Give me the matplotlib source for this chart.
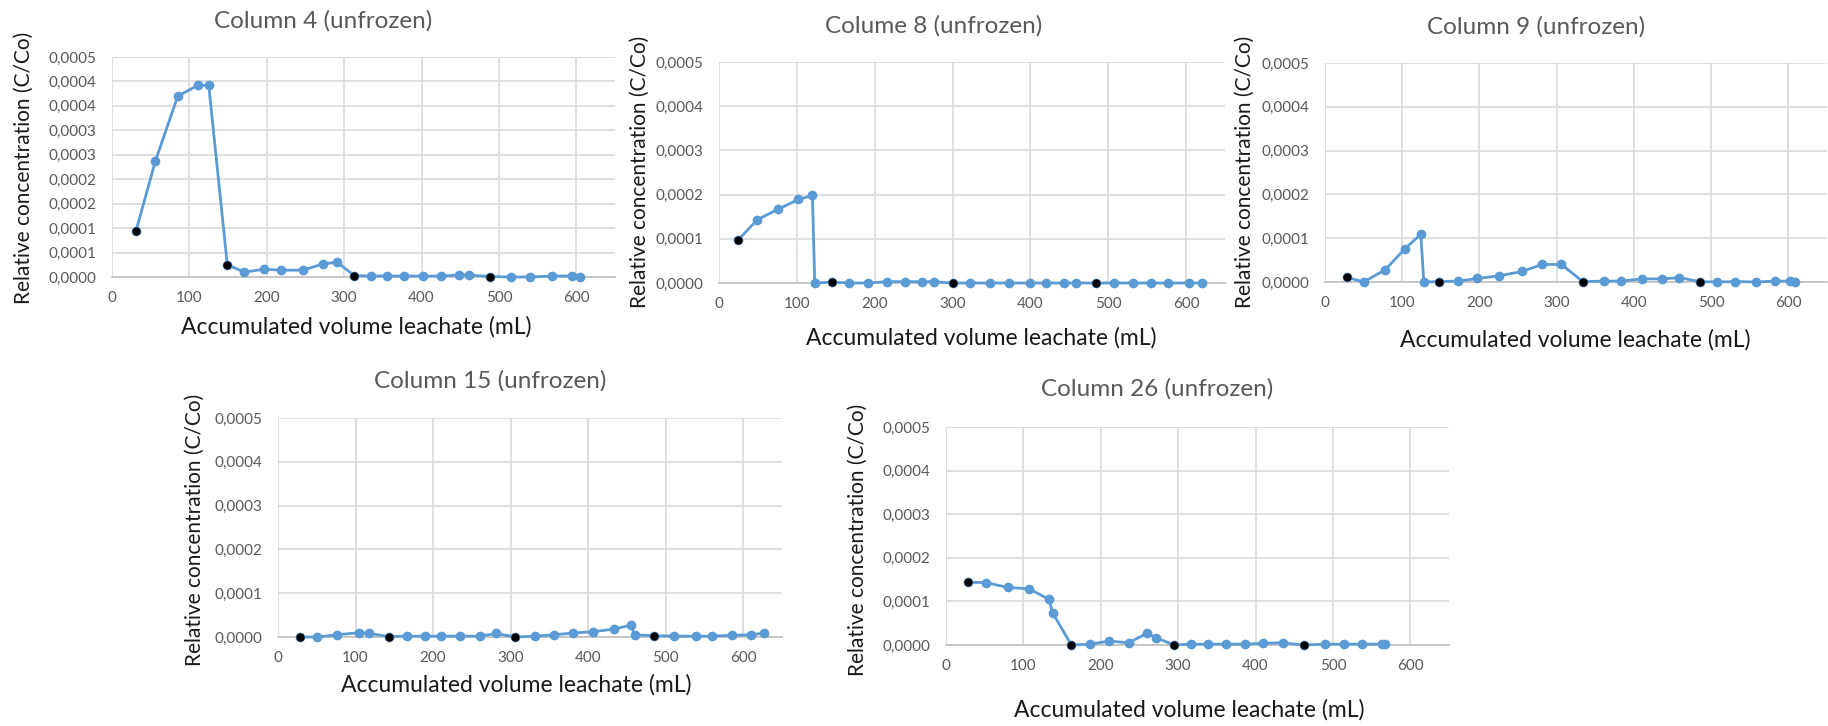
import matplotlib
matplotlib.use("Agg")
import matplotlib.pyplot as plt
from matplotlib.ticker import FixedLocator, FixedFormatter

plt.rcParams['font.family'] = ['Lato', 'DejaVu Sans']

# ---- data ----
titles = ["Column 4 (unfrozen)", "Colume 8 (unfrozen)", "Column 9 (unfrozen)",
          "Column 15 (unfrozen)", "Column 26 (unfrozen)"]

x_col4 = [31, 56, 85, 111, 125, 149, 171, 197, 219, 247, 273, 291, 313, 335, 355,
          377, 402, 425, 448, 461, 488, 515, 540, 568, 594, 605]
y_col4 = [0.94e-4, 2.37e-4, 3.70e-4, 3.92e-4, 3.92e-4, 0.25e-4, 0.10e-4, 0.16e-4,
          0.14e-4, 0.14e-4, 0.27e-4, 0.30e-4, 0.03e-4, 0.02e-4, 0.02e-4, 0.02e-4,
          0.02e-4, 0.02e-4, 0.04e-4, 0.04e-4, 0.01e-4, 0.0, 0.0, 0.02e-4, 0.02e-4, 0.0]
black_col4 = [0, 5, 12, 20]

x_col8 = [25, 49, 76, 102, 120, 123, 145, 167, 191, 216, 239, 261, 276, 300, 323,
          348, 372, 399, 420, 443, 458, 484, 507, 532, 555, 577, 604, 621]
y_col8 = [0.98e-4, 1.43e-4, 1.67e-4, 1.89e-4, 1.98e-4, 0.0, 0.02e-4, 0.0, 0.0,
          0.03e-4, 0.03e-4, 0.03e-4, 0.03e-4, 0.0, 0.0, 0.0, 0.0, 0.0, 0.0, 0.0,
          0.0, 0.0, 0.0, 0.0, 0.0, 0.0, 0.0, 0.0]
black_col8 = [0, 6, 13, 21]

x_col9 = [28, 50, 78, 103, 124, 128, 148, 172, 197, 225, 255, 281, 306, 334, 361,
          383, 410, 436, 459, 485, 507, 531, 558, 583, 602, 608]
y_col9 = [0.11e-4, 0.0, 0.28e-4, 0.75e-4, 1.09e-4, 0.0, 0.01e-4, 0.02e-4, 0.08e-4,
          0.14e-4, 0.24e-4, 0.40e-4, 0.40e-4, 0.01e-4, 0.02e-4, 0.02e-4, 0.07e-4,
          0.07e-4, 0.10e-4, 0.01e-4, 0.0, 0.01e-4, 0.0, 0.02e-4, 0.02e-4, 0.0]
black_col9 = [0, 6, 13, 19]

x_col15 = [28, 50, 76, 105, 118, 143, 166, 189, 210, 235, 260, 281, 306, 331, 356,
           380, 406, 433, 455, 460, 485, 511, 539, 560, 585, 610, 627]
y_col15 = [0.0, 0.0, 0.05e-4, 0.10e-4, 0.08e-4, 0.01e-4, 0.02e-4, 0.02e-4, 0.02e-4,
           0.02e-4, 0.02e-4, 0.08e-4, 0.0, 0.02e-4, 0.05e-4, 0.09e-4, 0.12e-4,
           0.18e-4, 0.27e-4, 0.05e-4, 0.03e-4, 0.02e-4, 0.02e-4, 0.02e-4, 0.04e-4,
           0.05e-4, 0.09e-4]
black_col15 = [0, 5, 12, 20]

x_col26 = [28, 52, 80, 107, 133, 138, 162, 186, 211, 236, 260, 272, 295, 317, 338,
           362, 387, 410, 435, 462, 490, 514, 538, 563, 567]
y_col26 = [1.44e-4, 1.43e-4, 1.32e-4, 1.29e-4, 1.05e-4, 0.73e-4, 0.0, 0.02e-4,
           0.09e-4, 0.05e-4, 0.27e-4, 0.16e-4, 0.0, 0.02e-4, 0.02e-4, 0.02e-4,
           0.02e-4, 0.04e-4, 0.05e-4, 0.0, 0.02e-4, 0.02e-4, 0.02e-4, 0.02e-4, 0.02e-4]
black_col26 = [0, 6, 12, 19]

x_ticks = [0, 100, 200, 300, 400, 500, 600]
y_ticks_col4 = [0, 0.5e-4, 1e-4, 1.5e-4, 2e-4, 2.5e-4, 3e-4, 3.5e-4, 4e-4, 4.5e-4]
y_labels_col4 = ["0,0000", "0,0001", "0,0001", "0,0002", "0,0002", "0,0003",
                 "0,0003", "0,0004", "0,0004", "0,0005"]
y_ticks = [0, 1e-4, 2e-4, 3e-4, 4e-4, 5e-4]
y_labels = ["0,0000", "0,0001", "0,0002", "0,0003", "0,0004", "0,0005"]

W, H = 1828, 726
fig = plt.figure(figsize=(W / 100, H / 100), dpi=100)

# (left, right, top, bottom) of each plot area in pixels, plus text anchors
boxes = [(112, 615, 57, 277), (719, 1225, 62, 283), (1325, 1827, 63, 282),
         (278, 782, 418, 637), (946, 1449, 427, 645)]
title_pos = [(323, 21), (934, 26), (1536, 27), (490, 381), (1157, 389)]
ylab_pos = [(24, 168), (640, 172), (1245, 172), (195, 530), (858, 540)]
xlab_pos = [(356, 327), (981, 338), (1575, 340), (516, 685), (1189, 710)]

series = [(x_col4, y_col4, black_col4), (x_col8, y_col8, black_col8),
          (x_col9, y_col9, black_col9), (x_col15, y_col15, black_col15),
          (x_col26, y_col26, black_col26)]

blue = "#5B9BD5"
grey_text = "#595959"
grid_c = "#D9D9D9"

for i, (xs, ys, blk) in enumerate(series):
    l, r, t, b = boxes[i]
    ax = fig.add_axes([l / W, 1 - b / H, (r - l) / W, (b - t) / H])
    ax.plot(xs, ys, color=blue, lw=2.0, marker="o", ms=6, mfc=blue, mec=blue,
            zorder=3, clip_on=False)
    ax.plot([xs[k] for k in blk], [ys[k] for k in blk], ls="none", marker="o",
            ms=5, color="black", zorder=4, clip_on=False)

    if i == 0:
        yt, yl = y_ticks_col4, y_labels_col4
    else:
        yt, yl = y_ticks, y_labels
    ax.set_xlim(0, 650)
    ax.set_ylim(0, yt[-1])
    ax.xaxis.set_major_locator(FixedLocator(x_ticks))
    ax.yaxis.set_major_locator(FixedLocator(yt))
    ax.yaxis.set_major_formatter(FixedFormatter(yl))
    ax.grid(True, color=grid_c, lw=1.2)
    ax.set_axisbelow(True)
    for s in ["top", "right", "left"]:
        ax.spines[s].set_visible(False)
    ax.spines["bottom"].set_color("#BFBFBF")
    ax.spines["bottom"].set_linewidth(1.2)
    ax.tick_params(length=0, labelsize=11, colors=grey_text)
    ax.tick_params(axis="x", pad=10)
    ax.tick_params(axis="y", pad=11)

    fig.text(title_pos[i][0] / W, 1 - title_pos[i][1] / H, titles[i],
             ha="center", va="center", fontsize=17.5, color=grey_text)
    fig.text(ylab_pos[i][0] / W, 1 - ylab_pos[i][1] / H,
             "Relative concentration (C/Co)", rotation=90,
             ha="center", va="center", fontsize=15, color="#1a1a1a")
    fig.text(xlab_pos[i][0] / W, 1 - xlab_pos[i][1] / H,
             "Accumulated volume leachate (mL)",
             ha="center", va="center", fontsize=16.5, color="#1a1a1a")

fig.savefig("out.png", dpi=100, facecolor="white")
